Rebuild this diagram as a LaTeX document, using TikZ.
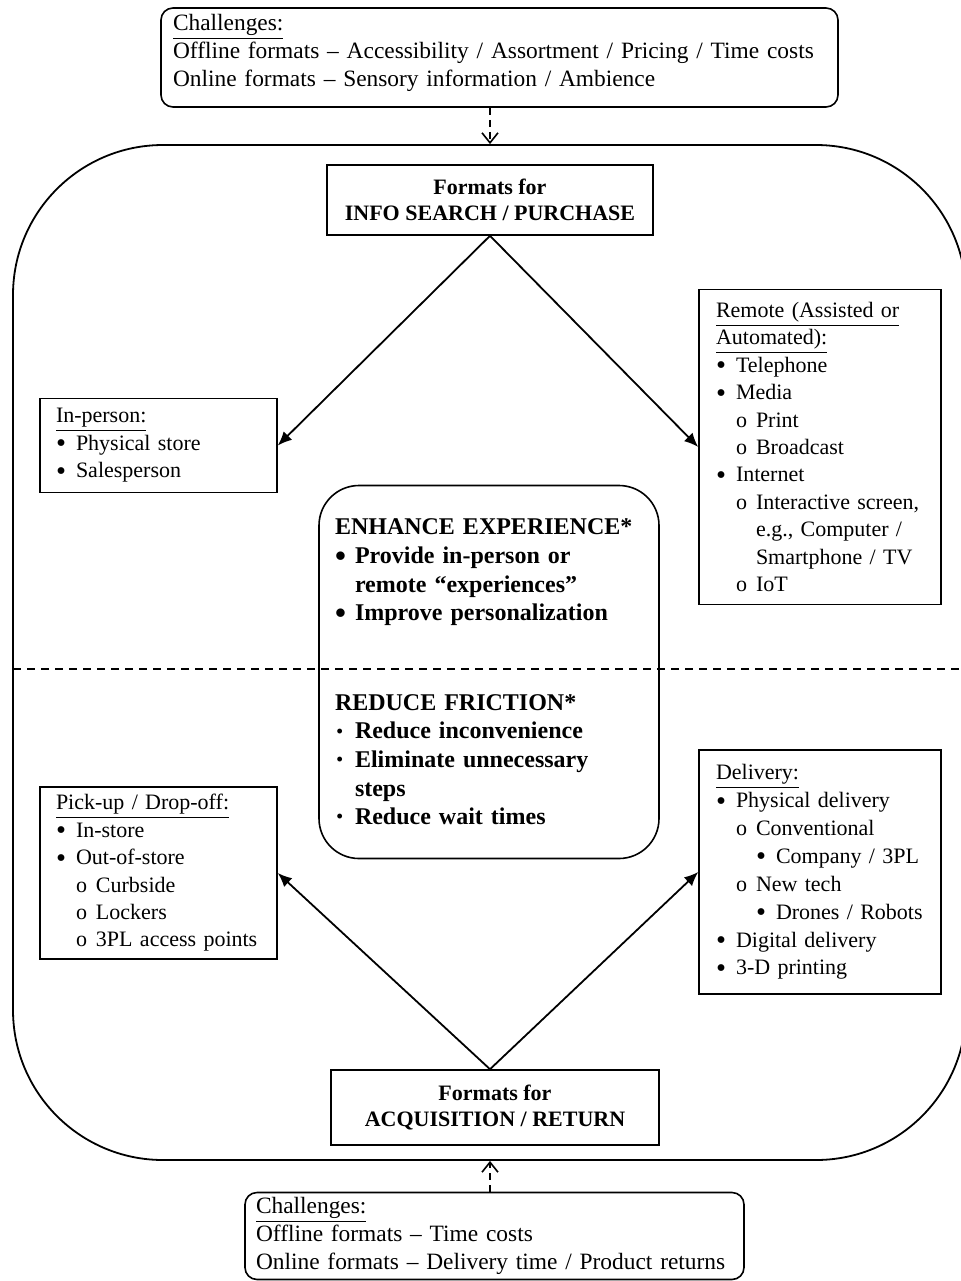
\documentclass[tikz,border=0pt]{standalone}
\usepackage{fontspec}
\usepackage{graphicx}
\setmainfont{Liberation Serif}
\usetikzlibrary{arrows.meta}
\newcommand\bigbul{\raisebox{-0.25ex}{\scalebox{1.3}{\textbullet}}}
\newcommand\lA[1]{\mbox{\makebox[10pt][l]{\bigbul}#1}}
\newcommand\lB[1]{\mbox{\hspace*{10pt}\makebox[10pt][l]{o}#1}}
\newcommand\lC[1]{\mbox{\hspace*{20pt}\makebox[10pt][l]{\bigbul}#1}}
\newcommand\lD[1]{\mbox{\makebox[10pt][l]{\hspace{0.8pt}\raisebox{0.9pt}{\scalebox{0.75}{\textbullet}}}#1}}
\newcommand\lcontA[1]{\mbox{\hspace*{10pt}#1}}
\newcommand\lcontB[1]{\mbox{\hspace*{20pt}#1}}
\begin{document}
\begin{tikzpicture}[x=0.5pt,y=-0.5pt,
  box/.style={draw, line width=0.8pt, inner xsep=8pt, inner ysep=0pt, align=left,
    font=\fontsize{11}{13.7}\selectfont},
  fmt/.style={draw, line width=0.8pt, inner sep=0pt, align=center,
    font=\bfseries\fontsize{11}{13.3}\selectfont},
  arr/.style={line width=0.9pt, -{Latex[length=7pt,width=6pt]}},
  darr/.style={line width=0.8pt, dashed, dash pattern=on 3.5pt off 2.5pt,
    -{Straight Barb[length=5pt,width=8pt]}},
  divider/.style={line width=0.8pt, dash pattern=on 4pt off 3pt}]
\useasboundingbox (0,0) rectangle (960,1281);

% outer frame
\node[draw, line width=0.9pt, rounded corners=75pt, minimum width=476.5pt,
  minimum height=507.5pt, inner sep=0pt] (big) at (489.5,652.5) {};

% divider
\coordinate (dl) at (13,669);
\coordinate (dr) at (960,669);
\draw[divider] (dl) -- (dr);

% challenges top
\node[box, rounded corners=6pt, inner xsep=6pt, text width=326.5pt, minimum height=49.5pt,
  font=\fontsize{11.7}{14}\selectfont] (chtop) at (499.5,57.5)
  {\underline{Challenges:}\\
   \mbox{Offline formats \textendash{} Accessibility / Assortment / Pricing / Time costs}\\
   \mbox{Online formats \textendash{} Sensory information / Ambience}\\[-7pt]\mbox{}};

% formats top
\node[fmt, minimum width=163pt, minimum height=35pt] (fis) at (490,200)
  {Formats for\\ INFO SEARCH / PURCHASE};

% in-person
\node[box, text width=102.5pt, minimum height=47pt] (inperson) at (158.5,445.5)
  {\underline{In-person:}\\ \lA{Physical store}\\ \lA{Salesperson}};

% remote
\node[box, inner xsep=8.5pt, text width=104pt, minimum height=157.5pt] (remote) at (820,447)
  {\underline{Remote (Assisted or}\\ \underline{Automated):}\\ \lA{Telephone}\\ \lA{Media}\\
   \lB{Print}\\ \lB{Broadcast}\\ \lA{Internet}\\ \lB{Interactive screen,}\\
   \lcontB{e.g., Computer /}\\ \lcontB{Smartphone / TV}\\ \lB{IoT}};

% center
\node[box, rounded corners=20pt, text width=154pt, minimum height=186.5pt,
  font=\bfseries\fontsize{12}{14.3}\selectfont] (ctr) at (489,672)
  {ENHANCE EXPERIENCE*\\ \lA{Provide in-person or}\\ \lcontA{remote “experiences”}\\
   \lA{Improve personalization}\\[30.5pt]
   REDUCE FRICTION*\\ \lD{Reduce inconvenience}\\ \lD{Eliminate unnecessary}\\
   \lcontA{steps}\\ \lD{Reduce wait times}};

% pick-up
\node[box, text width=102.5pt, minimum height=86pt] (pickup) at (158.5,873)
  {\underline{Pick-up / Drop-off:}\\ \lA{In-store}\\ \lA{Out-of-store}\\
   \lB{Curbside}\\ \lB{Lockers}\\ \lB{3PL access points}};

% delivery
\node[box, inner xsep=8.5pt, text width=104pt, minimum height=122pt,
  font=\fontsize{11}{13.95}\selectfont] (delivery) at (820,872)
  {\underline{Delivery:}\\ \lA{Physical delivery}\\ \lB{Conventional}\\ \lC{Company / 3PL}\\
   \lB{New tech}\\ \lC{Drones / Robots}\\ \lA{Digital delivery}\\ \lA{3-D printing}};

% formats bottom
\node[fmt, minimum width=164pt, minimum height=37.5pt] (fac) at (495,1107.5)
  {Formats for\\ ACQUISITION / RETURN};

% challenges bottom
\node[box, rounded corners=6pt, inner xsep=5.5pt, text width=238.5pt, minimum height=43.5pt,
  font=\fontsize{11.7}{14}\selectfont] (chbot) at (494.5,1236)
  {\underline{Challenges:}\\ \mbox{Offline formats \textendash{} Time costs}\\
   \mbox{Online formats \textendash{} Delivery time / Product returns}};

% connectors
\coordinate (apex) at (fac.north -| fis.south);
\draw[arr] (fis.south) -- (inperson.east);
\draw[arr] (fis.south) -- (remote.west);
\draw[arr] (apex) -- (pickup.east);
\draw[arr] (apex) -- (delivery.west);
\draw[darr] (chtop.south -| fis.south) -- (big.north -| fis.south);
\draw[darr] (chbot.north -| fis.south) -- (big.south -| fis.south);
\end{tikzpicture}
\end{document}
